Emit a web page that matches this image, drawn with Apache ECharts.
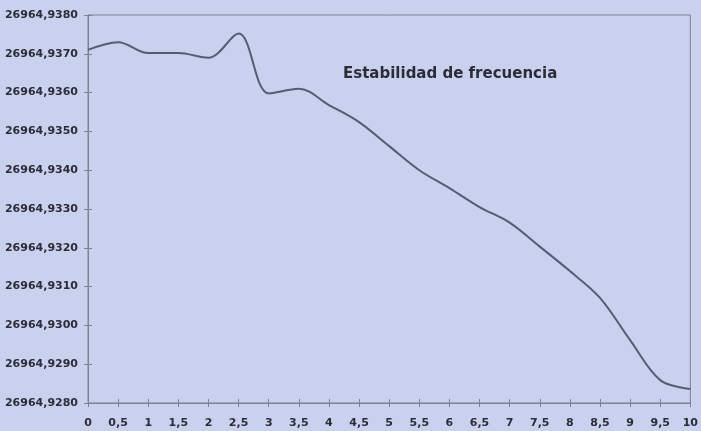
<!DOCTYPE html>
<html>
<head>
<meta charset="utf-8">
<style>
  html, body { margin: 0; padding: 0; background: #c9d1ee; }
  #chart { width: 701px; height: 431px; }
</style>
<script src="https://cdn.jsdelivr.net/npm/echarts@6/dist/echarts.min.js"></script>
</head>
<body>
<div id="chart"></div>
<script>
// tiempo (eje x)
const tiempo = [0, 0.5, 1, 1.5, 2, 2.5, 3, 3.5, 4, 4.5, 5, 5.5, 6, 6.5, 7, 7.5, 8, 8.5, 9, 9.5, 10]
// frecuencia medida
const frecuencia = [
  26964.93710, 26964.93730, 26964.93702, 26964.93702, 26964.93690,
  26964.93752, 26964.93598, 26964.93610, 26964.93568, 26964.93524,
  26964.93462, 26964.93400, 26964.93354, 26964.93305, 26964.93265,
  26964.93203, 26964.93140, 26964.93071, 26964.92962, 26964.92859,
  26964.92836
]
const yMin = 26964.928
const yMax = 26964.938
const yStep = 0.001
const titulo = 'Estabilidad de frecuencia'

const axisColor = '#7c8194'
const textColor = '#2b2c38'
const fontFam = '"DejaVu Sans", sans-serif'

const chart = echarts.init(document.getElementById('chart'))
chart.setOption({
  backgroundColor: '#c9d1ee',
  animation: false,
  title: {
    text: titulo,
    left: 338,
    top: 62,
    textStyle: { fontFamily: fontFam, fontSize: 15, fontWeight: 'bold', color: textColor }
  },
  grid: {
    left: 88,
    right: 8,
    top: 15,
    bottom: 28,
    show: true,
    borderColor: axisColor,
    borderWidth: 1,
    backgroundColor: 'transparent'
  },
  xAxis: [{
    type: 'value',
    min: 0,
    max: 10,
    interval: 0.5,
    axisLine: { lineStyle: { color: axisColor } },
    axisTick: { length: 4, lineStyle: { color: axisColor } },
    splitLine: { show: false },
    axisLabel: {
      margin: 15,
      color: textColor,
      fontFamily: fontFam,
      fontSize: 11,
      fontWeight: 'bold',
      formatter: v => String(v).replace('.', ',')
    }
  }, {
    type: 'value',
    position: 'bottom',
    min: 0,
    max: 10,
    interval: 0.5,
    axisLine: { show: false },
    axisTick: { inside: true, length: 4, lineStyle: { color: axisColor } },
    axisLabel: { show: false },
    splitLine: { show: false }
  }],
  yAxis: [{
    type: 'value',
    min: yMin,
    max: yMax,
    interval: yStep,
    axisLine: { show: true, lineStyle: { color: axisColor } },
    axisTick: { show: true, length: 4, lineStyle: { color: axisColor } },
    splitLine: { show: false },
    axisLabel: {
      margin: 10,
      color: textColor,
      fontFamily: fontFam,
      fontSize: 11,
      fontWeight: 'bold',
      formatter: v => v.toFixed(4).replace('.', ',')
    }
  }, {
    type: 'value',
    position: 'left',
    min: yMin,
    max: yMax,
    interval: yStep,
    axisLine: { show: false },
    axisTick: { show: true, inside: true, length: 4, lineStyle: { color: axisColor } },
    axisLabel: { show: false },
    splitLine: { show: false }
  }],
  series: [{
    type: 'line',
    data: tiempo.map((t, i) => [t, frecuencia[i]]),
    smooth: 0.35,
    showSymbol: false,
    lineStyle: { color: '#575c72', width: 2 }
  }]
})
</script>
</body>
</html>
